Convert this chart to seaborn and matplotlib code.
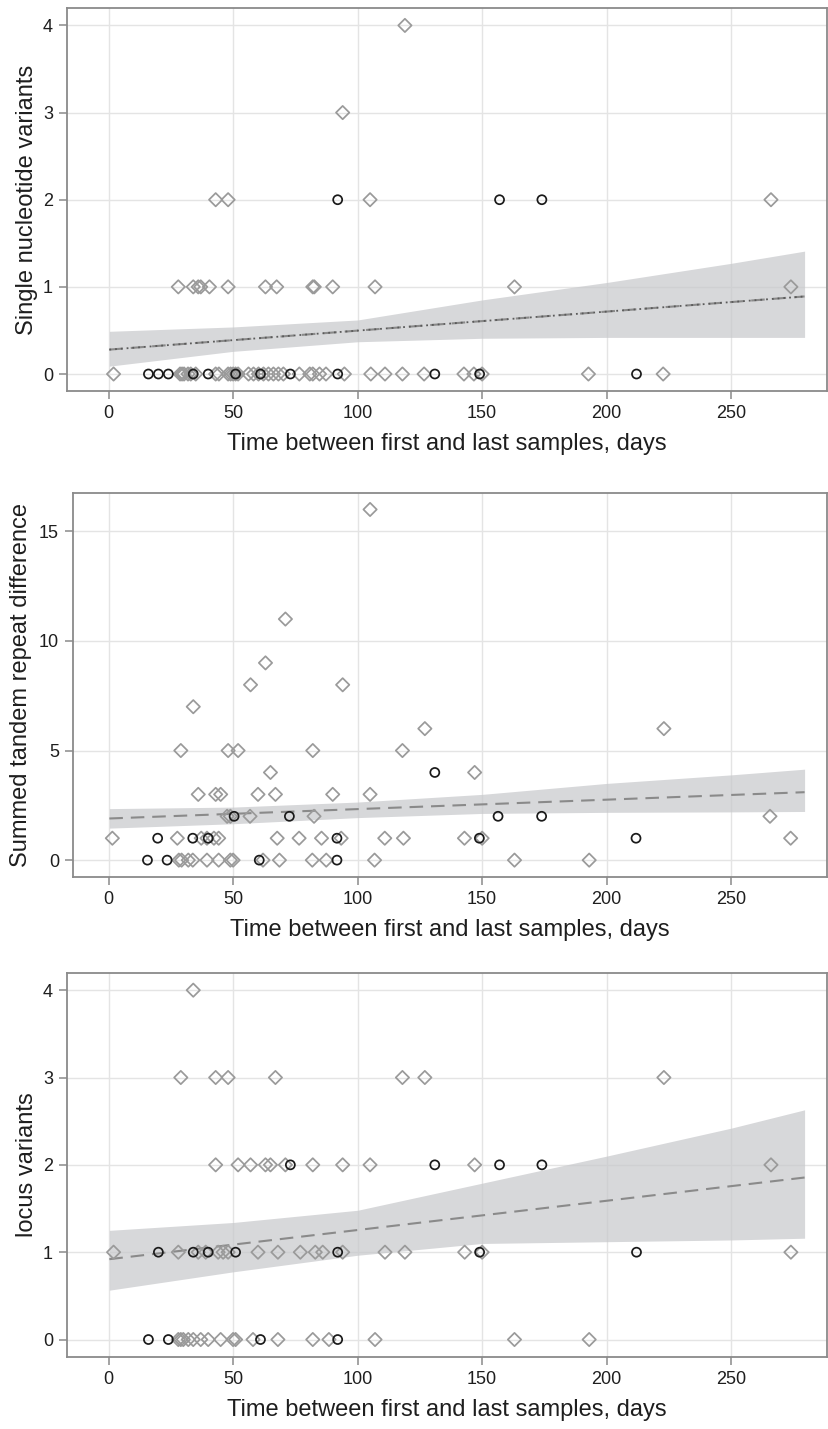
import matplotlib
matplotlib.use("Agg")
import matplotlib.pyplot as plt
import numpy as np
import pandas as pd
import seaborn as sns

# ---------------- data (days, value) ----------------
x_ticks = [0, 50, 100, 150, 200, 250]
snv_ticks = [0, 1, 2, 3, 4]
str_ticks = [0, 5, 10, 15]
locus_ticks = [0, 1, 2, 3, 4]

snv_diamonds = [
    (119, 4), (94, 3), (43, 2), (48, 2), (105, 2), (266, 2),
    (28, 1), (34, 1), (36, 1), (37, 1), (40.5, 1), (48, 1), (63, 1), (67.5, 1),
    (82, 1), (82.6, 1), (90, 1), (107, 1), (163, 1), (274, 1),
    (2, 0), (28.7, 0), (29.5, 0), (30.3, 0), (31.9, 0), (33, 0), (35, 0), (43, 0),
    (44.3, 0), (48, 0), (49, 0), (50, 0), (51, 0), (52, 0), (56.2, 0), (58.2, 0),
    (60.2, 0), (62.2, 0), (64.2, 0), (66.2, 0), (68.2, 0), (70.2, 0), (76.6, 0),
    (80.8, 0), (82, 0), (84.7, 0), (87.3, 0), (94.7, 0), (105.3, 0), (111, 0),
    (118, 0), (126.7, 0), (142.7, 0), (146.7, 0), (150, 0), (192.7, 0), (222.7, 0),
]
snv_circles = [
    (16, 0), (20, 0), (24, 0), (34, 0), (40, 0), (51, 0), (61, 0), (73, 0),
    (92, 0), (131, 0), (149, 0), (212, 0), (92, 2), (157, 2), (174, 2),
]

str_diamonds = [
    (105, 16), (71, 11), (63, 9), (57, 8), (94, 8), (34, 7), (127, 6), (223, 6),
    (29, 5), (48, 5), (52, 5), (82, 5), (118, 5), (65, 4), (147, 4),
    (36, 3), (43, 3), (45, 3), (60, 3), (67, 3), (90, 3), (105, 3),
    (47.6, 2), (48.9, 2), (56.8, 2), (82.5, 2), (265.6, 2),
    (1.5, 1), (27.6, 1), (37.2, 1), (39.5, 1), (42.3, 1), (44.2, 1), (67.7, 1),
    (76.5, 1), (85.5, 1), (93.4, 1), (110.9, 1), (118.4, 1), (142.9, 1), (150, 1),
    (273.9, 1),
    (28.2, 0), (29.3, 0), (32, 0), (33.8, 0), (39.5, 0), (44.2, 0), (48.9, 0),
    (50, 0), (62, 0), (68.6, 0), (81.8, 0), (87.4, 0), (106.8, 0), (163, 0), (193, 0),
]
str_circles = [
    (131, 4), (50.4, 2), (72.6, 2), (156.4, 2), (173.9, 2),
    (19.7, 1), (33.8, 1), (40, 1), (91.7, 1), (148.9, 1), (211.8, 1),
    (15.6, 0), (23.5, 0), (60.5, 0), (91.7, 0),
]

locus_diamonds = [
    (34, 4),
    (29, 3), (43, 3), (48, 3), (67, 3), (118, 3), (127, 3), (223, 3),
    (43, 2), (52, 2), (57, 2), (63, 2), (65, 2), (71, 2), (82, 2), (94, 2),
    (105, 2), (147, 2), (266, 2),
    (2, 1), (28, 1), (36, 1), (39, 1), (44, 1), (46, 1), (48, 1), (60, 1), (68, 1),
    (77, 1), (83, 1), (86, 1), (94, 1), (111, 1), (119, 1), (143, 1), (150, 1),
    (274, 1),
    (28, 0), (29, 0), (30, 0), (32, 0), (34, 0), (37, 0), (40, 0), (45, 0), (50, 0),
    (51, 0), (58, 0), (68, 0), (82, 0), (88.5, 0), (107, 0), (163, 0), (193, 0),
]
locus_circles = [
    (73, 2), (131, 2), (157, 2), (174, 2),
    (20, 1), (34, 1), (40, 1), (51, 1), (92, 1), (149, 1), (212, 1),
    (16, 0), (24, 0), (61, 0), (92, 0),
]

# fitted trend lines and confidence bands
line_days = [0.3, 279.5]
band_days = [0.3, 50, 100, 150, 200, 250, 279.5]

snv_line = [0.28, 0.89]
snv_upper = [0.49, 0.54, 0.62, 0.85, 1.05, 1.27, 1.41]
snv_lower = [0.09, 0.26, 0.37, 0.41, 0.42, 0.42, 0.42]

str_line = [1.90, 3.10]
str_upper = [2.35, 2.42, 2.65, 3.00, 3.50, 3.89, 4.15]
str_lower = [1.46, 1.66, 1.94, 2.13, 2.18, 2.20, 2.22]

locus_line = [0.92, 1.855]
locus_upper = [1.25, 1.34, 1.48, 1.79, 2.10, 2.42, 2.63]
locus_lower = [0.565, 0.775, 0.965, 1.10, 1.12, 1.14, 1.16]

x_label = "Time between first and last samples, days"


def to_frame(diamonds, circles):
    d = pd.DataFrame(diamonds, columns=["days", "value"])
    d["group"] = "diamond"
    c = pd.DataFrame(circles, columns=["days", "value"])
    c["group"] = "circle"
    return pd.concat([d, c], ignore_index=True)


panels = [
    dict(df=to_frame(snv_diamonds, snv_circles), ylabel="Single nucleotide variants",
         line=snv_line, upper=snv_upper, lower=snv_lower,
         yticks=snv_ticks, ylim=(-0.195, 4.2), xlim=(-16.7, 288.5),
         pos=[67, 8, 827, 391], ylab_x=38, dotted=True),
    dict(df=to_frame(str_diamonds, str_circles), ylabel="Summed tandem repeat difference",
         line=str_line, upper=str_upper, lower=str_lower,
         yticks=str_ticks, ylim=(-0.77, 16.77), xlim=(-14.3, 288.5),
         pos=[73, 492.6, 827, 877], ylab_x=32, dotted=False),
    dict(df=to_frame(locus_diamonds, locus_circles), ylabel="locus variants",
         line=locus_line, upper=locus_upper, lower=locus_lower,
         yticks=locus_ticks, ylim=(-0.2, 4.2), xlim=(-16.7, 288.5),
         pos=[67, 972.7, 827, 1357], ylab_x=38, dotted=False),
]

# ---------------- styling ----------------
sns.set_theme(style="white")
plt.rcParams["font.family"] = ["Liberation Sans", "DejaVu Sans"]
plt.rcParams["lines.scale_dashes"] = True

W, H = 829, 1429
fig = plt.figure(figsize=(W / 100, H / 100), dpi=100)
fig.patch.set_facecolor("white")

text_color = "#1e1e1e"
spine_color = "#8a8a8a"
grid_color = "#e4e4e4"
band_color = "#c8c9cc"
line_color = "#8a8a8a"
diamond_color = "#9a9a9a"
circle_color = "#1a1a1a"

for p in panels:
    l, t, r, b = p["pos"]
    ax = fig.add_axes([l / W, 1 - b / H, (r - l) / W, (b - t) / H])
    df = p["df"]

    ax.fill_between(band_days, p["lower"], p["upper"], color=band_color,
                    alpha=0.72, lw=0, zorder=1.5)
    sns.lineplot(x=line_days, y=p["line"], ax=ax, color=line_color, lw=1.5,
                 linestyle=(0, (6.5, 3.8)), zorder=2)
    if p["dotted"]:
        sns.lineplot(x=line_days, y=p["line"], ax=ax, color="#5a5a5a", lw=1.3,
                     linestyle=(0, (1.0, 2.2)), zorder=2.1)

    dd = df[df["group"] == "diamond"]
    cc = df[df["group"] == "circle"]
    sns.scatterplot(data=dd, x="days", y="value", ax=ax, marker="D", s=46,
                    facecolor="none", edgecolor=diamond_color, linewidth=1.25, zorder=3,
                    legend=False)
    sns.scatterplot(data=cc, x="days", y="value", ax=ax, marker="o", s=42,
                    facecolor="none", edgecolor=circle_color, linewidth=1.25, zorder=4,
                    legend=False)

    ax.set_xlim(*p["xlim"])
    ax.set_ylim(*p["ylim"])
    ax.set_xticks(x_ticks)
    ax.set_yticks(p["yticks"])
    ax.grid(True, color=grid_color, lw=1.0, zorder=0)
    ax.set_axisbelow(True)
    for s in ax.spines.values():
        s.set_visible(True)
        s.set_color(spine_color)
        s.set_linewidth(1.3)
    ax.tick_params(axis="both", which="major", direction="out", length=6, width=1.1,
                   color=spine_color, labelsize=13, labelcolor=text_color, pad=4,
                   bottom=True, left=True)
    ax.set_xlabel(x_label, fontsize=17, color=text_color, labelpad=8)
    ax.set_ylabel(p["ylabel"], fontsize=17, color=text_color)
    ax.yaxis.set_label_coords((p["ylab_x"] - l) / (r - l), 0.5)

fig.savefig("out.png", dpi=100, facecolor="white")
